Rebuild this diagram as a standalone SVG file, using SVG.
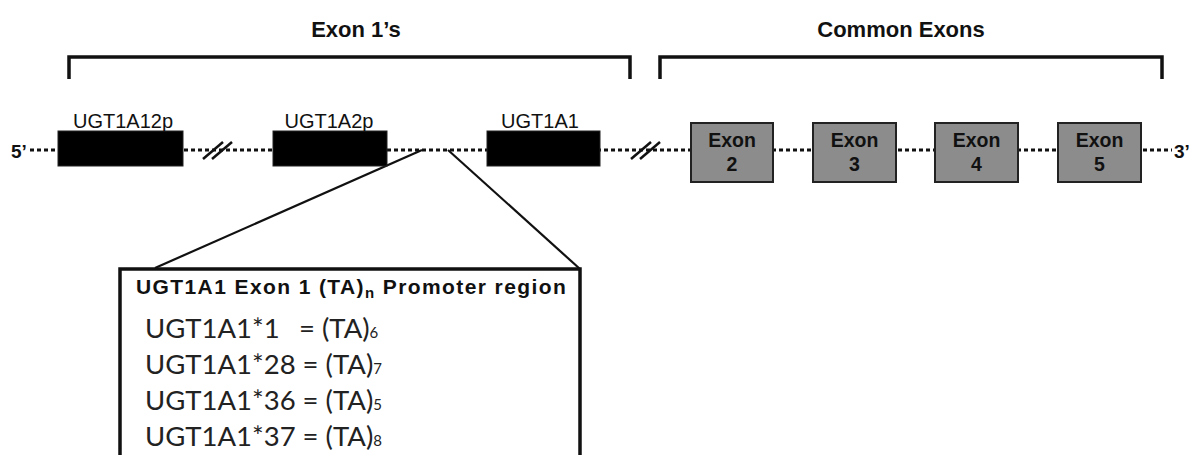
<svg xmlns="http://www.w3.org/2000/svg" width="1192" height="455" viewBox="0 0 1192 455">
<style>
.hdr{font-family:"Liberation Sans",Arial,sans-serif;font-weight:bold;font-size:22px;fill:#111;text-anchor:middle}
.lbl{font-family:"Liberation Sans",Arial,sans-serif;font-size:20px;fill:#111;text-anchor:middle}
.end{font-family:"Liberation Sans",Arial,sans-serif;font-weight:bold;font-size:19px;fill:#111}
.ex{font-family:"Liberation Sans",Arial,sans-serif;font-weight:bold;font-size:19.5px;fill:#111;text-anchor:middle}
.bracket{fill:none;stroke:#111;stroke-width:3.5}
.gene{fill:#000;stroke:#222;stroke-width:1}
.exon{fill:#8c8c8c;stroke:#222;stroke-width:2}
.dot{stroke:#111;stroke-width:3;stroke-dasharray:4 3;fill:none}
.brk{stroke:#111;stroke-width:2.5}
.zoomline{stroke:#111;stroke-width:2.2;fill:none}
.box{fill:#fff;stroke:#111;stroke-width:3.5}
.bt{font-family:"Liberation Sans",Arial,sans-serif;font-weight:bold;font-size:21px;fill:#111;letter-spacing:1.4px}
.al{font-family:Lato,"Open Sans",sans-serif;font-size:27.5px;fill:#222}
.sub{font-size:15px}
</style>

<g id="exon1s-bracket">
<path class="bracket" d="M69,79 V57 H630 V79"/>
<text class="hdr" x="356" y="37">Exon 1’s</text>
</g>
<g id="common-bracket">
<path class="bracket" d="M660,79 V57 H1162 V79"/>
<text class="hdr" x="901" y="37">Common Exons</text>
</g>

<g id="connectors">
<line class="dot" x1="30" y1="150" x2="1172" y2="150"/>
<line class="zoomline" x1="422" y1="150" x2="155" y2="268"/>
<line class="zoomline" x1="448" y1="150" x2="580" y2="269"/>
<line class="brk" x1="203" y1="159" x2="223" y2="142"/>
<line class="brk" x1="212" y1="159" x2="232" y2="142"/>
<line class="brk" x1="631" y1="159" x2="651" y2="142"/>
<line class="brk" x1="640" y1="159" x2="660" y2="142"/>
</g>

<g id="end5"><text class="end" x="11" y="158">5’</text></g>
<g id="end3"><text class="end" x="1174" y="158">3’</text></g>

<g id="UGT1A12p">
<rect class="gene" x="58" y="131" width="125" height="35"/>
<text class="lbl" x="123" y="128">UGT1A12p</text>
</g>
<g id="UGT1A2p">
<rect class="gene" x="273" y="131" width="114" height="35"/>
<text class="lbl" x="329" y="128">UGT1A2p</text>
</g>
<g id="UGT1A1">
<rect class="gene" x="487" y="131" width="113" height="35"/>
<text class="lbl" x="540" y="128">UGT1A1</text>
</g>

<g id="exon2">
<rect class="exon" x="691" y="123" width="82" height="59"/>
<text class="ex" x="732" y="147">Exon</text>
<text class="ex" x="732" y="171">2</text>
</g>
<g id="exon3">
<rect class="exon" x="813" y="123" width="83" height="59"/>
<text class="ex" x="854.5" y="147">Exon</text>
<text class="ex" x="854.5" y="171">3</text>
</g>
<g id="exon4">
<rect class="exon" x="935" y="123" width="83" height="59"/>
<text class="ex" x="976.5" y="147">Exon</text>
<text class="ex" x="976.5" y="171">4</text>
</g>
<g id="exon5">
<rect class="exon" x="1058" y="123" width="83" height="59"/>
<text class="ex" x="1099.5" y="147">Exon</text>
<text class="ex" x="1099.5" y="171">5</text>
</g>

<g id="promoter-box">
<path class="box" d="M120,462 V269 H580 V462"/>
<text class="bt" x="136" y="294">UGT1A1 Exon 1 (TA)<tspan class="sub" dy="4">n</tspan><tspan dy="-4"> Promoter region</tspan></text>
<text class="al" x="145" y="338">UGT1A1*1</text>
<text class="al" x="299" y="338">= (TA)<tspan class="sub">6</tspan></text>
<text class="al" x="145" y="374">UGT1A1*28 = (TA)<tspan class="sub">7</tspan></text>
<text class="al" x="145" y="410">UGT1A1*36 = (TA)<tspan class="sub">5</tspan></text>
<text class="al" x="145" y="446">UGT1A1*37 = (TA)<tspan class="sub">8</tspan></text>
</g>
</svg>
